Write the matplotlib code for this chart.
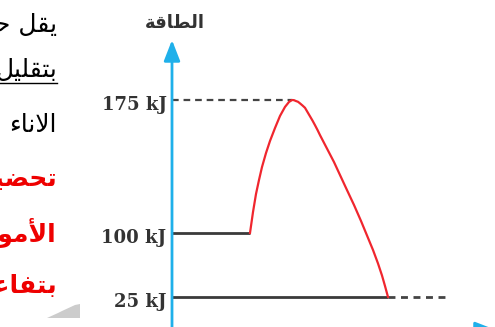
import numpy as np
import matplotlib
matplotlib.use("Agg")
import matplotlib.pyplot as plt
from matplotlib.transforms import ScaledTranslation
from matplotlib.patches import Polygon
from matplotlib.lines import Line2D

# energy levels on the y axis (kJ)
levels = [25, 100, 175]
level_labels = ["25 kJ", "100 kJ", "175 kJ"]

# reactants, products and the path over the barrier
reactant_x = [0, 78]
reactant_e = [100, 100]
product_x = [0, 216]
product_e = [25, 25]
product_dash_x = [216, 273]
peak_dash_x = [0, 120]
path_x = [78, 81, 84, 87, 90, 94, 98, 103, 108, 113, 117, 120,
          122, 124, 126, 128, 130.5, 133, 135.5, 138, 140.5, 143, 145.5, 148,
          155, 162, 168, 175, 182, 189, 195, 201, 206, 210, 213, 216]
path_e = [100, 111.8, 122.0, 129.9, 137.2, 145.1, 151.9, 159.2, 166.0, 171.1, 173.9, 175,
          174.9, 174.4, 174.0, 173.1, 171.9, 170.6, 168.2, 165.8, 163.4, 160.8, 158.1, 155.2,
          147.6, 140.0, 132.7, 124.2, 115.8, 106.8, 97.1, 80.1, 64.3, 50.2, 37.9, 25]

# the energy axis is schematic, not to scale
scale_e = [-13.7, 25, 100, 175, 208.8]
scale_h = [0, 33, 97, 230, 290]


def fwd(e):
    return np.interp(e, scale_e, scale_h)


def inv(h):
    return np.interp(h, scale_h, scale_e)


W, H = 495, 327
fig = plt.figure(figsize=(W / 100, H / 100), dpi=100)
fig.patch.set_facecolor("white")


def px(x, y):
    return x / W, 1 - y / H


blue = "#1fb0ea"
ax = fig.add_axes([172 / W, -3 / H, (W - 172) / W, 290 / H])
ax.set_yscale("function", functions=(fwd, inv))
ax.set_xlim(0, 323)
ax.set_ylim(-13.7, 208.8)
for s in ax.spines.values():
    s.set_visible(False)
ax.set_xticks([])
ax.set_yticks(levels)
ax.set_yticklabels(level_labels, fontfamily="DejaVu Serif", fontweight="bold",
                   fontsize=13, color="#333333")
ax.tick_params(axis="y", length=0, pad=4)
ax.minorticks_off()
shift = ScaledTranslation(0, -3 / 100, fig.dpi_scale_trans)
for lab in ax.get_yticklabels():
    lab.set_transform(lab.get_transform() + shift)

# axes with arrow heads
arrow = dict(arrowstyle="-|>,head_length=0.9,head_width=0.35", color=blue, lw=2,
             mutation_scale=14, shrinkA=0, shrinkB=0)
ax.annotate("", xy=(0, 1), xytext=(0, 0), xycoords="axes fraction",
            arrowprops=arrow, annotation_clip=False)
ax.annotate("", xy=(1.003, 0), xytext=(0, 0), xycoords="axes fraction",
            arrowprops=arrow, annotation_clip=False)

ax.plot(reactant_x, reactant_e, color="#3a3a3a", lw=2, solid_capstyle="butt")
ax.plot(product_x, product_e, color="#3a3a3a", lw=2, solid_capstyle="butt")
ax.plot(product_dash_x, product_e, color="#444444", lw=2, ls=(0, (2.5, 2)))
ax.plot(peak_dash_x, [175, 175], color="#444444", lw=1.6, ls=(0, (3, 2.2)))
ax.plot(path_x, path_e, color="#f0262e", lw=1.6, solid_joinstyle="round")

fig.text(*px(175, 23), "\ufe94\ufed7\ufe8e\ufec4\ufedf\ufe8d", ha="center", va="center",
         fontsize=13, fontweight="bold", color="#333333", family="DejaVu Sans")

# page text on the left, cut at the image edge
page_lines = [
    ("\ufee2\ufea0\ufea3 \ufede\ufed8\ufef3", 25, "black", "normal"),
    ("\ufede\ufef4\ufee0\ufed8\ufe98\ufe91", 70, "black", "normal"),
    ("\ufe80\ufe8e\ufee7\ufefb\ufe8d", 125, "black", "normal"),
    ("\ufeae\ufef4\ufec0\ufea4\ufe97", 180, "#ee0000", "bold"),
    ("\ufe8e\ufef4\ufee7\ufeee\ufee3\ufef7\ufe8d", 233, "#ee0000", "bold"),
    ("\ufede\ufecb\ufe8e\ufed4\ufe98\ufe91", 285, "#ee0000", "bold"),
]
for txt, y, col, wt in page_lines:
    fig.text(*px(57, y), txt, ha="right", va="center", fontsize=18,
             color=col, fontweight=wt, family="DejaVu Sans")
fig.add_artist(Line2D([0, 57 / W], [1 - 83 / H] * 2, color="black", lw=1))

fig.add_artist(Polygon([px(47, 318), px(58, 313), px(62, 311), px(75, 305),
                        px(80, 304), px(80, 318)], closed=True,
                       facecolor="#cccccc", edgecolor="none"))

fig.savefig("out.png", dpi=100)
